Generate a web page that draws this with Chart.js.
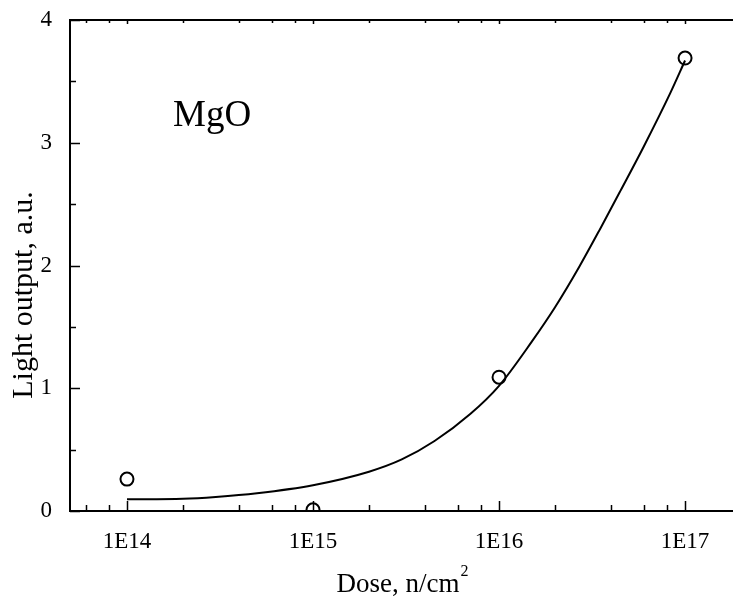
<!DOCTYPE html>
<html>
<head>
<meta charset="utf-8">
<script src="https://cdn.jsdelivr.net/npm/chart.js@4/dist/chart.umd.min.js"></script>
<style>
  html, body { margin: 0; padding: 0; background: #fff; }
  #wrap { width: 733px; height: 596px; position: relative; }
</style>
</head>
<body>
<div id="wrap"><canvas id="mgoChart"></canvas></div>
<script>
// measured points
const doses = [1e14, 1e15, 1e16, 1e17];
const lightOutput = [0.26, 0.01, 1.09, 3.69];

// fitted curve
const fitDoses = [1e14, 2e14, 3e14, 5e14, 1e15, 2e15, 3e15, 4.5e15, 7e15, 1e16,
                  1.5e16, 2e16, 2.7e16, 3.5e16, 4.5e16, 6e16, 8.3e16, 1e17];
const fitValues = [0.095, 0.10, 0.115, 0.145, 0.21, 0.32, 0.42, 0.57, 0.79, 1.02,
                   1.38, 1.66, 1.99, 2.30, 2.61, 2.97, 3.40, 3.67];

// axis ticks
const xMajorTicks = [1e14, 1e15, 1e16, 1e17];
const xTickLabels = ['1E14', '1E15', '1E16', '1E17'];
const xMinorTicks = [6e13, 8e13, 2e14, 4e14, 6e14, 8e14, 2e15, 4e15, 6e15, 8e15,
                     2e16, 4e16, 6e16, 8e16];
const yMajorTicks = [0, 1, 2, 3, 4];
const yMinorTicks = [0.5, 1.5, 2.5, 3.5];

const FONT = "'Liberation Serif', 'Times New Roman', serif";

// frame + inward ticks + texts
const framePlugin = {
  id: 'frame',
  afterDatasetsDraw(chart) {
    const { ctx, chartArea: a, scales: { x, y } } = chart;
    ctx.save();
    ctx.strokeStyle = '#000';
    ctx.lineWidth = 2;
    ctx.beginPath();
    ctx.moveTo(a.right + 2, a.top);
    ctx.lineTo(a.left, a.top);
    ctx.lineTo(a.left, a.bottom);
    ctx.lineTo(a.right + 2, a.bottom);
    ctx.stroke();

    ctx.lineWidth = 1.5;
    ctx.beginPath();
    xMajorTicks.forEach(v => {
      const px = Math.round(x.getPixelForValue(v)) + 0.5;
      ctx.moveTo(px, a.bottom); ctx.lineTo(px, a.bottom - 10);
      ctx.moveTo(px, a.top); ctx.lineTo(px, a.top + 4);
    });
    xMinorTicks.forEach(v => {
      const px = Math.round(x.getPixelForValue(v)) + 0.5;
      ctx.moveTo(px, a.bottom); ctx.lineTo(px, a.bottom - 6);
      ctx.moveTo(px, a.top); ctx.lineTo(px, a.top + 3);
    });
    yMajorTicks.forEach(v => {
      const py = Math.round(y.getPixelForValue(v)) + 0.5;
      ctx.moveTo(a.left, py); ctx.lineTo(a.left + 10, py);
    });
    yMinorTicks.forEach(v => {
      const py = Math.round(y.getPixelForValue(v)) + 0.5;
      ctx.moveTo(a.left, py); ctx.lineTo(a.left + 6, py);
    });
    ctx.stroke();

    ctx.fillStyle = '#000';

    // sample name
    ctx.font = '37px ' + FONT;
    ctx.textAlign = 'left';
    ctx.textBaseline = 'alphabetic';
    ctx.fillText('MgO', 173, 126);

    // y title
    ctx.save();
    ctx.translate(32, 295);
    ctx.rotate(-Math.PI / 2);
    ctx.textAlign = 'center';
    ctx.font = '30px ' + FONT;
    ctx.fillText('Light output, a.u.', 0, 0);
    ctx.restore();

    // x title with superscript
    const main = 'Dose, n/cm';
    ctx.font = '27px ' + FONT;
    const wMain = ctx.measureText(main).width;
    ctx.font = '16px ' + FONT;
    const wSup = ctx.measureText('2').width;
    const x0 = 402 - (wMain + wSup) / 2;
    ctx.textAlign = 'left';
    ctx.font = '27px ' + FONT;
    ctx.fillText(main, x0, 592);
    ctx.font = '16px ' + FONT;
    ctx.fillText('2', x0 + wMain + 1, 576);
    ctx.restore();
  }
};

new Chart(document.getElementById('mgoChart'), {
  type: 'line',
  data: {
    datasets: [
      {
        label: 'fit',
        data: fitDoses.map((d, i) => ({ x: d, y: fitValues[i] })),
        borderColor: '#000',
        borderWidth: 2,
        pointRadius: 0,
        cubicInterpolationMode: 'monotone',
        fill: false,
        clip: 0
      },
      {
        label: 'MgO',
        data: doses.map((d, i) => ({ x: d, y: lightOutput[i] })),
        showLine: false,
        pointStyle: 'circle',
        pointRadius: 6.5,
        pointBorderWidth: 2,
        pointBorderColor: '#000',
        pointBackgroundColor: 'rgba(0,0,0,0)',
        clip: 0
      }
    ]
  },
  options: {
    responsive: true,
    maintainAspectRatio: false,
    animation: false,
    layout: { autoPadding: false, padding: { left: 0, top: 20, right: 0, bottom: 0 } },
    plugins: { legend: { display: false }, tooltip: { enabled: false } },
    scales: {
      x: {
        type: 'logarithmic',
        min: 4.94e13,
        max: 1.81e17,
        grid: { display: false },
        border: { display: false },
        afterBuildTicks: s => { s.ticks = xMajorTicks.map(v => ({ value: v })); },
        afterFit: s => { s.height = 85; s.paddingLeft = 0; s.paddingRight = 0; },
        ticks: {
          autoSkip: false,
          maxRotation: 0,
          padding: 9,
          color: '#000',
          font: { family: FONT, size: 23 },
          callback: (v, i) => xTickLabels[i]
        }
      },
      y: {
        min: 0,
        max: 4,
        grid: { display: false },
        border: { display: false },
        afterBuildTicks: s => { s.ticks = yMajorTicks.map(v => ({ value: v })); },
        afterFit: s => { s.width = 70; s.paddingTop = 0; s.paddingBottom = 0; },
        ticks: {
          padding: 10,
          color: '#000',
          font: { family: FONT, size: 23 },
          callback: v => String(v)
        }
      }
    }
  },
  plugins: [framePlugin]
});
</script>
</body>
</html>
